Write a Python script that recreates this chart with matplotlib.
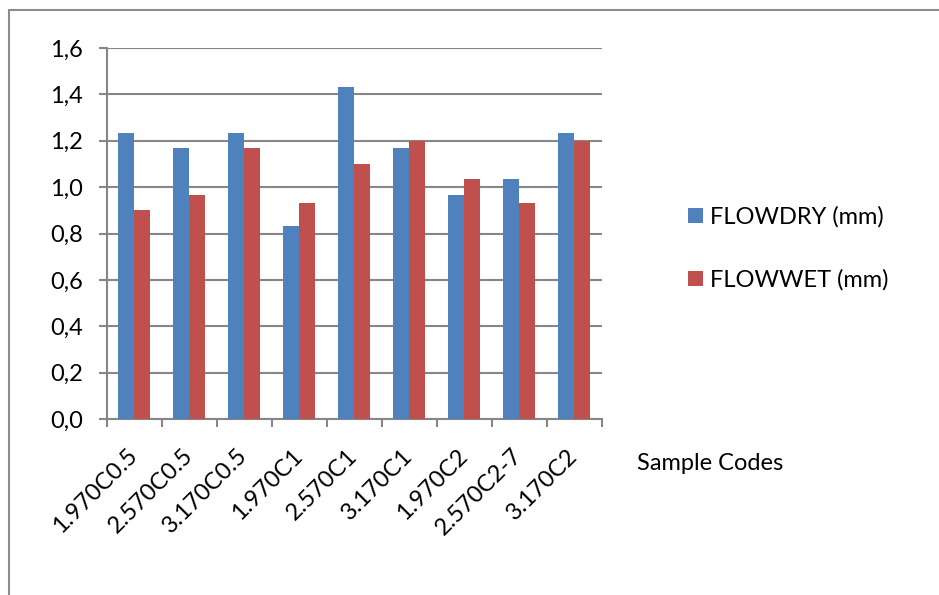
import numpy as np
import matplotlib.pyplot as plt
from matplotlib.patches import Rectangle
from matplotlib.ticker import FuncFormatter

plt.rcParams['font.family'] = ['Lato', 'DejaVu Sans']

codes = ['1.970C0.5', '2.570C0.5', '3.170C0.5', '1.970C1', '2.570C1',
         '3.170C1', '1.970C2', '2.570C2-7', '3.170C2']
flow_dry = [1.233, 1.167, 1.233, 0.833, 1.433, 1.167, 0.967, 1.033, 1.233]
flow_wet = [0.900, 0.967, 1.167, 0.933, 1.100, 1.200, 1.033, 0.933, 1.200]

blue = '#4F81BD'
red = '#C0504D'
grey = '#868686'
fs = 17

W, H = 939, 595
fig = plt.figure(figsize=(W / 100, H / 100), dpi=100)
ax = fig.add_axes([106.7 / W, 1 - 419 / H, 495 / W, 371 / H])

x = np.arange(len(codes))
bw = 1 / 3.5
ax.bar(x - bw / 2, flow_dry, bw, color=blue, label='FLOWDRY (mm)', zorder=3)
ax.bar(x + bw / 2, flow_wet, bw, color=red, label='FLOWWET (mm)', zorder=3)

ax.set_xlim(-0.5, len(codes) - 0.5)
ax.set_ylim(0, 1.6)
ax.set_yticks(np.arange(0, 1.61, 0.2))
ax.yaxis.set_major_formatter(FuncFormatter(lambda v, p: f'{v:.1f}'.replace('.', ',')))
ax.grid(axis='y', color=grey, lw=1.5, zorder=0)

for s in ['top', 'right']:
    ax.spines[s].set_visible(False)
for s in ['left', 'bottom']:
    ax.spines[s].set_color(grey)
    ax.spines[s].set_linewidth(1.5)

ax.tick_params(axis='y', direction='out', length=6, width=1.5, color=grey,
               labelsize=fs, pad=11)

# category labels at centres, tick marks at category boundaries
ax.set_xticks(x)
ax.set_xticklabels(codes, rotation=45, ha='right', va='center',
                   rotation_mode='anchor', fontsize=fs)
ax.tick_params(axis='x', which='major', length=0, pad=24)
ax.set_xticks(np.arange(-0.5, len(codes)), minor=True)
ax.tick_params(axis='x', which='minor', direction='out', length=6,
               width=1.5, color=grey)

fig.legend(loc='center left', bbox_to_anchor=(688 / W, 1 - 248.5 / H),
           frameon=False, fontsize=fs, handlelength=0.62, handleheight=0.62,
           handletextpad=0.3, labelspacing=1.75, borderpad=0, borderaxespad=0)

fig.text(637 / W, 1 - 463 / H, 'Sample Codes', fontsize=fs, va='center')

# chart area frame
fig.add_artist(Rectangle((8.5 / W, -0.2), 1.0, 1.2 - 10 / H,
                         transform=fig.transFigure, fill=False,
                         edgecolor='#8C8C8C', lw=1.5))

fig.savefig('out.png', dpi=100)
